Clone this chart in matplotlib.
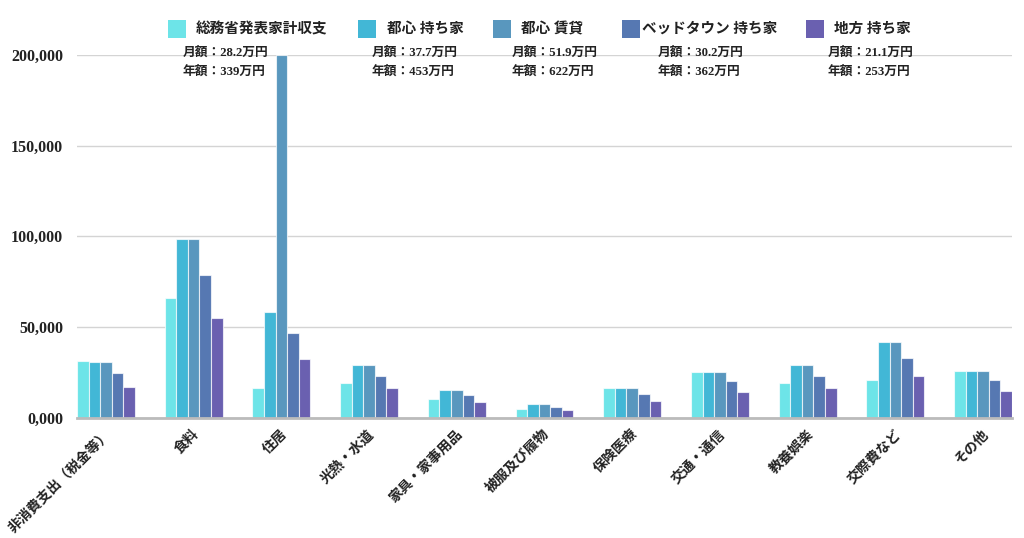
import matplotlib
matplotlib.use("Agg")
import matplotlib.pyplot as plt
import matplotlib.transforms as mtrans
import numpy as np
from matplotlib.patches import Rectangle

categories = ["非消費支出（税金等）", "食料", "住居", "光熱・水道", "家具・家事用品",
              "被服及び履物", "保険医療", "交通・通信", "教養娯楽", "交際費など", "その他"]
series_names = ["総務省発表家計収支", "都心 持ち家", "都心 賃貸", "ベッドタウン 持ち家", "地方 持ち家"]
monthly = ["28.2", "37.7", "51.9", "30.2", "21.1"]
yearly = ["339", "453", "622", "362", "253"]
values = {
    "総務省発表家計収支": [31300, 65700, 16300, 19100, 10000, 4800, 16100, 25200, 19300, 20600, 25900],
    "都心 持ち家":       [30400, 98500, 58300, 28900, 15200, 7200, 16100, 25200, 28900, 41500, 25900],
    "都心 賃貸":         [30400, 98500, 200000, 28900, 15200, 7200, 16100, 25200, 28900, 41500, 25900],
    "ベッドタウン 持ち家": [24300, 78500, 46700, 23100, 12200, 5700, 12800, 20200, 23000, 33000, 20600],
    "地方 持ち家":       [16900, 55000, 32400, 16100, 8500, 3900, 8900, 14100, 16100, 23000, 14400],
}
colors = ["#6de4e8", "#42b7d6", "#5997be", "#5678b2", "#6a60b0"]

plt.rcParams['font.family'] = ['Liberation Serif', 'Noto Sans CJK JP', 'DejaVu Sans']

W, H = 1024, 538
fig = plt.figure(figsize=(W / 100, H / 100), dpi=100)
ax = fig.add_axes([77 / W, 1 - 417.5 / H, (1012 - 77) / W, (417.5 - 55) / H])

x = np.arange(len(categories))
bw = 0.132
for i, name in enumerate(series_names):
    ax.bar(x + (i - 2) * bw, values[name], width=bw, color=colors[i],
           edgecolor=(1, 1, 1, 0.7), linewidth=0.8, zorder=2)

ax.set_xlim(-2.5 * bw, len(categories) - 1 + 2.5 * bw)
ax.set_ylim(0, 200000)
ax.set_yticks([0, 50000, 100000, 150000, 200000])
ax.set_yticklabels(["0,000", "50,000", "100,000", "150,000", "200,000"],
                   fontsize=11.5, fontweight='bold', color='#222222')
ax.tick_params(axis='y', length=0, pad=10)
ax.yaxis.grid(True, color='#d4d4d4', linewidth=1)
ax.set_axisbelow(True)
for s in ['top', 'right', 'left']:
    ax.spines[s].set_visible(False)
ax.spines['bottom'].set_color('#bbbbbb')
ax.spines['bottom'].set_linewidth(2)
ax.set_xticks(x)
ax.set_xticklabels(categories, rotation=45, ha='right', va='top',
                   fontsize=10, fontweight='bold', color='#222222')
ax.tick_params(axis='x', length=0, pad=7)
offset = mtrans.ScaledTranslation(0.08, 0, fig.dpi_scale_trans)
for lbl in ax.get_xticklabels():
    lbl.set_transform(lbl.get_transform() + offset)

# white legend box hiding gridline
fig.patches.append(Rectangle((167 / W, 1 - 86 / H), (938 - 167) / W, 76 / H,
                             transform=fig.transFigure, facecolor='white',
                             edgecolor='none', zorder=0.8))
ax.set_zorder(1)
ax.patch.set_alpha(0)

sq_x = [168, 358, 493, 622, 806]
txt_x = [196, 387, 521, 642, 834]
ann_x = [183, 372, 512, 658, 828]
for i, name in enumerate(series_names):
    fig.patches.append(Rectangle((sq_x[i] / W, 1 - 38 / H), 18 / W, 18 / H,
                                 transform=fig.transFigure, facecolor=colors[i],
                                 edgecolor='none', zorder=3))
    fig.text(txt_x[i] / W, 1 - 29 / H, name, fontsize=10.5, fontweight='bold',
             va='center', ha='left', color='#222222')
    fig.text(ann_x[i] / W, 1 - 53 / H, f"月額：{monthly[i]}万円", fontsize=9.2,
             fontweight='bold', va='center', ha='left', color='#222222')
    fig.text(ann_x[i] / W, 1 - 72 / H, f"年額：{yearly[i]}万円", fontsize=9.2,
             fontweight='bold', va='center', ha='left', color='#222222')

fig.savefig("out.png", dpi=100, facecolor='white')
